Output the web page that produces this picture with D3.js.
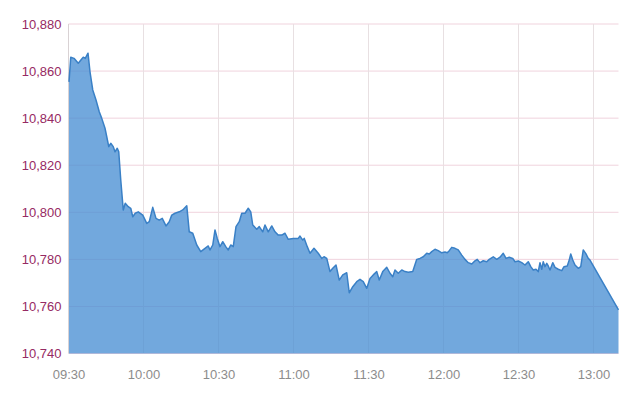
<!DOCTYPE html>
<html>
<head>
<meta charset="utf-8">
<script src="https://cdn.jsdelivr.net/npm/d3@7"></script>
<style>
  body { margin: 0; background: #fff; }
</style>
</head>
<body>
<svg id="chart" width="640" height="400"></svg>
<script>
// Minutes after 09:30 and index value
const minutes = [0.2, 0.9, 2.2, 3.9, 5.3, 5.9, 6.7, 7.8, 8.6, 9.7, 11.0, 12.3, 13.3, 14.6, 15.3, 16.1, 16.9, 17.9, 18.6, 19.5,
  20.1, 20.9, 21.9, 22.7, 23.9, 24.9, 25.7, 26.7, 27.9, 29.7, 31.3, 32.3, 33.7, 35.0, 36.3, 37.5, 39.0, 40.3, 41.3, 42.6,
  44.3, 45.7, 47.3, 48.3, 49.7, 51.3, 52.9, 54.6, 55.9, 56.6, 57.7, 58.6, 59.5, 60.6, 61.7, 62.9, 63.9, 64.9, 65.9, 67.0,
  68.3, 69.3, 70.6, 71.9, 72.9, 73.7, 75.3, 76.3, 77.7, 78.6, 79.9, 81.3, 82.6, 83.9, 85.3, 86.6, 87.9, 89.9, 91.9, 92.6,
  93.7, 94.3, 95.5, 96.6, 98.2, 99.9, 101.3, 102.2, 103.3, 104.6, 105.7, 107.0, 108.3, 109.7, 111.3, 112.3, 113.7, 115.3, 116.6, 117.9,
  119.3, 120.6, 121.9, 123.3, 124.3, 125.7, 127.3, 128.6, 129.7, 130.6, 131.9, 133.3, 134.6, 135.9, 137.7, 139.3, 140.6, 141.9, 143.3, 144.3,
  145.3, 146.6, 147.9, 149.3, 150.6, 151.5, 152.3, 153.3, 154.6, 155.9, 157.3, 158.6, 159.9, 161.3, 162.6, 163.5, 164.6, 165.9, 167.3, 168.3,
  169.9, 171.3, 172.6, 173.9, 175.0, 176.3, 177.7, 178.6, 179.9, 181.3, 182.6, 183.9, 184.9, 185.9, 187.0, 187.9, 188.6, 189.3, 189.9, 190.6,
  191.3, 191.9, 192.6, 193.7, 194.6, 195.9, 197.3, 198.2, 199.5, 200.3, 200.9, 201.7, 202.6, 203.9, 204.9, 205.9, 207.0, 207.9, 208.6, 220.0];
const values = [10855.4, 10865.9, 10865.4, 10863.3, 10865.1, 10865.9, 10865.4, 10867.6, 10859.7, 10852.0, 10847.7, 10842.7, 10839.9, 10835.7, 10832.1, 10827.9, 10829.3, 10827.9, 10825.7, 10827.2,
  10825.7, 10813.7, 10801.0, 10803.8, 10802.4, 10801.7, 10798.1, 10799.6, 10800.2, 10798.8, 10795.3, 10796.0, 10802.1, 10797.4, 10796.7, 10797.4, 10794.2, 10796.0, 10798.8, 10799.6,
  10800.2, 10801.0, 10802.8, 10791.7, 10791.1, 10786.1, 10783.3, 10784.7, 10785.7, 10784.0, 10786.1, 10792.5, 10788.9, 10785.4, 10787.5, 10785.4, 10784.0, 10786.1, 10785.4, 10793.9,
  10796.0, 10799.6, 10799.6, 10801.7, 10800.2, 10794.6, 10792.8, 10793.9, 10791.7, 10794.6, 10791.7, 10794.2, 10791.7, 10790.3, 10790.3, 10791.1, 10788.5, 10788.9, 10788.9, 10789.9,
  10788.2, 10788.9, 10785.4, 10782.6, 10784.7, 10782.6, 10780.4, 10781.1, 10780.4, 10774.8, 10776.2, 10777.6, 10771.2, 10773.4, 10774.3, 10765.8, 10768.4, 10770.5, 10771.5, 10770.5,
  10767.7, 10771.9, 10773.4, 10774.8, 10771.2, 10774.8, 10776.6, 10774.1, 10772.6, 10775.5, 10774.1, 10775.5, 10774.8, 10774.5, 10774.8, 10780.0, 10780.4, 10781.1, 10782.6, 10782.3,
  10783.3, 10784.3, 10783.7, 10782.8, 10783.1, 10782.8, 10783.7, 10785.1, 10784.7, 10784.0, 10781.8, 10780.0, 10778.6, 10778.0, 10779.4, 10780.0, 10778.6, 10779.4, 10779.0, 10780.0,
  10781.1, 10780.0, 10780.9, 10782.6, 10780.4, 10780.9, 10780.4, 10779.0, 10779.3, 10778.6, 10777.6, 10779.0, 10776.9, 10775.5, 10775.8, 10774.8, 10778.6, 10775.8, 10779.0, 10776.9,
  10778.3, 10777.2, 10775.5, 10778.6, 10776.6, 10775.8, 10775.2, 10776.9, 10777.2, 10779.7, 10782.3, 10779.7, 10777.6, 10776.2, 10776.9, 10784.0, 10782.3, 10780.4, 10779.7, 10758.5];

const yTicks = [10740, 10760, 10780, 10800, 10820, 10840, 10860, 10880];
const xTicks = [0, 30, 60, 90, 120, 150, 180, 210];
const xTickLabels = ["09:30", "10:00", "10:30", "11:00", "11:30", "12:00", "12:30", "13:00"];

const data = minutes.map((m, i) => ({ m: m, v: values[i] }));

const svg = d3.select("#chart");
const plotLeft = 68.5, plotRight = 618.5, plotTop = 24, plotBottom = 353.5;

const x = d3.scaleLinear().domain([0, 220]).range([plotLeft, plotRight]);
const y = d3.scaleLinear().domain([10740, 10880]).range([plotBottom, plotTop]);

// Grid
svg.append("g")
    .selectAll("line")
    .data(yTicks)
    .join("line")
    .attr("x1", plotLeft).attr("x2", plotRight)
    .attr("y1", d => y(d)).attr("y2", d => y(d))
    .attr("stroke", "#f0d3dd")
    .attr("stroke-width", 1);

svg.append("g")
    .selectAll("line")
    .data(xTicks)
    .join("line")
    .attr("x1", d => x(d)).attr("x2", d => x(d))
    .attr("y1", plotTop).attr("y2", plotBottom)
    .attr("stroke", d => d === 0 ? "#d9d2d4" : "#e8e0e2")
    .attr("stroke-width", 1);

// Area + line
const area = d3.area()
    .x(d => x(d.m))
    .y0(y(10740))
    .y1(d => y(d.v));

const line = d3.line()
    .x(d => x(d.m))
    .y(d => y(d.v));

svg.append("path")
    .datum(data)
    .attr("d", area)
    .attr("fill", "rgb(70,140,210)")
    .attr("fill-opacity", 0.76);

svg.append("path")
    .datum(data)
    .attr("d", line)
    .attr("fill", "none")
    .attr("stroke", "#3a80c6")
    .attr("stroke-width", 1.5)
    .attr("stroke-linejoin", "round");

// Axes labels
const yAxis = d3.axisLeft(y)
    .tickValues(yTicks)
    .tickSize(0)
    .tickPadding(7)
    .tickFormat(d3.format(","));

svg.append("g")
    .attr("transform", `translate(${plotLeft},0)`)
    .call(yAxis)
    .call(g => g.select(".domain").remove())
    .selectAll("text")
    .style("font-family", "Liberation Sans, Arial, sans-serif")
    .style("font-size", "13px")
    .attr("fill", "#962a63");

const xAxis = d3.axisBottom(x)
    .tickValues(xTicks)
    .tickSize(0)
    .tickPadding(16)
    .tickFormat((d, i) => xTickLabels[i]);

svg.append("g")
    .attr("transform", `translate(0,${plotBottom})`)
    .call(xAxis)
    .call(g => g.select(".domain").remove())
    .selectAll("text")
    .style("font-family", "Liberation Sans, Arial, sans-serif")
    .style("font-size", "13px")
    .attr("fill", "#8c8c8c");
</script>
</body>
</html>
